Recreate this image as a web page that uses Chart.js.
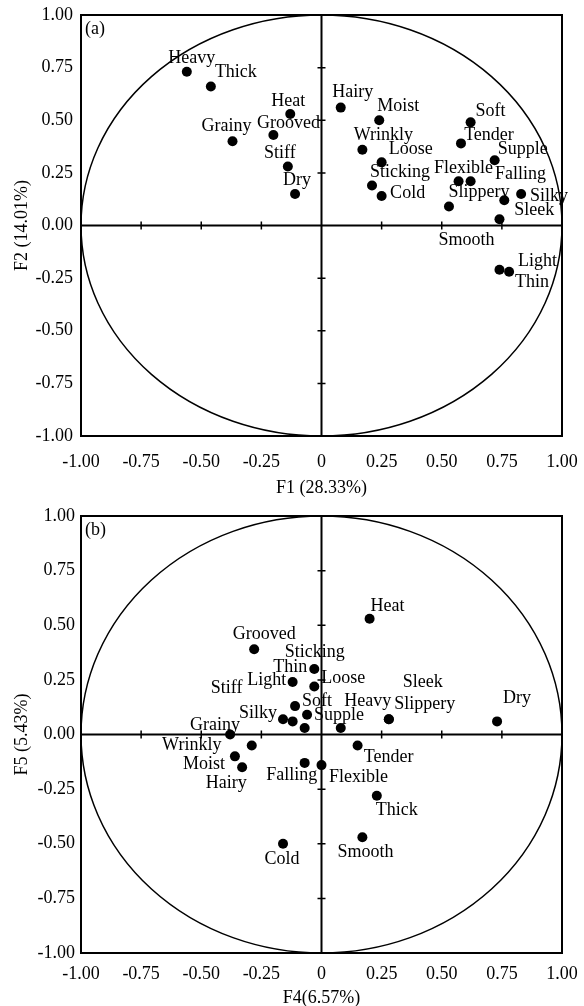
<!DOCTYPE html>
<html><head><meta charset="utf-8">
<script src="https://cdn.jsdelivr.net/npm/chart.js@4"></script>
<style>
html,body{margin:0;padding:0;background:#fff;width:584px;height:1006px;overflow:hidden}
#wa{position:absolute;left:0;top:0;width:584px;height:500px}
#wb{position:absolute;left:0;top:500px;width:584px;height:506px}
</style></head><body>
<div id="wa"><canvas id="ca" width="584" height="500"></canvas></div>
<div id="wb"><canvas id="cb" width="584" height="506"></canvas></div>
<script>
// ---- Panel (a): F1 vs F2 ----
const namesA = ['Heavy','Thick','Heat','Grooved','Grainy','Stiff','Dry','Hairy','Moist','Wrinkly','Loose','Sticking','Cold','Soft','Tender','Supple','Flexible','Falling','Silky','Slippery','Sleek','Smooth','Light','Thin'];
const f1 = [-0.56,-0.46,-0.13,-0.20,-0.37,-0.14,-0.11,0.08,0.24,0.17,0.25,0.21,0.25,0.62,0.58,0.72,0.57,0.62,0.83,0.53,0.76,0.74,0.74,0.78];
const f2 = [0.73,0.66,0.53,0.43,0.40,0.28,0.15,0.56,0.50,0.36,0.30,0.19,0.14,0.49,0.39,0.31,0.21,0.21,0.15,0.09,0.12,0.03,-0.21,-0.22];

// ---- Panel (b): F4 vs F5 ----
const namesB = ['Heat','Grooved','Thin','Sticking','Light','Stiff','Loose','Soft','Supple','Silky','Heavy','Slippery','Sleek','Dry','Grainy','Wrinkly','Moist','Hairy','Falling','Flexible','Tender','Thick','Smooth','Cold'];
const f4 = [0.20,-0.28,-0.03,-0.07,-0.12,-0.12,-0.03,-0.11,-0.06,-0.16,0.08,0.28,0.28,0.73,-0.38,-0.29,-0.36,-0.33,-0.07,0.00,0.15,0.23,0.17,-0.16];
const f5 = [0.53,0.39,0.30,0.03,0.24,0.06,0.22,0.13,0.09,0.07,0.03,0.07,0.07,0.06,0.00,-0.05,-0.10,-0.15,-0.13,-0.14,-0.05,-0.28,-0.47,-0.50];

// tick labels
const xTickLabels = ['-1.00','-0.75','-0.50','-0.25','0','0.25','0.50','0.75','1.00'];
const yTickLabels = ['-1.00','-0.75','-0.50','-0.25','0.00','0.25','0.50','0.75','1.00'];

// label placement (pixel offsets from each point; styling only)
const labelOffsetsA = [[5,-14],[25,-14],[-2,-13],[15,-12],[-6,-15],[-8,-13],[2,-14],[12,-15],[19,-14],[21,-14],[29,-13],[28,-13],[26,-3],[20,-11],[28,-8],[28,-11],[5,-13],[50,-7],[28,2],[30,-14],[30,10],[-33,21],[38,-8],[23,10]];
const labelOffsetsB = [[18,-12],[10,-15],[-24,-2],[10,-76],[-26,-2],[-66,-33],[29,-8],[22,-5],[32,0],[-25,-6],[27,-27],[36,-15],[34,-37],[20,-23],[-15,-9],[-60,0],[-31,8],[-16,16],[-13,12],[37,12],[31,12],[20,15],[3,15],[-1,16]];

const FONT = '"Liberation Serif", "Times New Roman", serif';

const decor = {
  id: 'decor',
  beforeDatasetsDraw(chart, args, o) {
    const {ctx, chartArea: a, scales: {x, y}} = chart;
    const cx = x.getPixelForValue(0), cy = y.getPixelForValue(0);
    const rx = x.getPixelForValue(1) - cx, ry = cy - y.getPixelForValue(1);
    ctx.save();
    ctx.strokeStyle = '#000';
    ctx.lineWidth = 1.5;
    ctx.beginPath(); ctx.ellipse(cx, cy, rx, ry, 0, 0, Math.PI * 2); ctx.stroke();
    ctx.lineWidth = 2;
    ctx.beginPath();
    ctx.moveTo(a.left, cy); ctx.lineTo(a.right, cy);
    ctx.moveTo(cx, a.top); ctx.lineTo(cx, a.bottom);
    ctx.stroke();
    ctx.lineWidth = 1.5;
    ctx.beginPath();
    x.ticks.forEach(t => { if (t.value !== 0 && Math.abs(t.value) < 1) { const p = x.getPixelForValue(t.value); ctx.moveTo(p, cy - 4); ctx.lineTo(p, cy + 4); } });
    y.ticks.forEach(t => { if (t.value !== 0 && Math.abs(t.value) < 1) { const p = y.getPixelForValue(t.value); ctx.moveTo(cx - 4, p); ctx.lineTo(cx + 4, p); } });
    ctx.stroke();
    ctx.lineWidth = 2;
    ctx.strokeRect(a.left, a.top, a.width, a.height);
    ctx.fillStyle = '#000';
    ctx.font = '18px ' + FONT;
    ctx.textAlign = 'left'; ctx.textBaseline = 'middle';
    ctx.fillText(o.tag, a.left + 4, a.top + 14);
    ctx.restore();
  },
  afterDatasetsDraw(chart, args, o) {
    const {ctx} = chart;
    const meta = chart.getDatasetMeta(0);
    ctx.save();
    ctx.fillStyle = '#000';
    ctx.font = '18px ' + FONT;
    ctx.textAlign = 'center'; ctx.textBaseline = 'middle';
    meta.data.forEach((pt, i) => {
      const off = o.offsets[i];
      ctx.fillText(o.names[i], pt.x + off[0], pt.y + off[1]);
    });
    ctx.restore();
  }
};

function makeChart(id, xs, ys, names, offsets, tag, xTitle, yTitle, cfg) {
  return new Chart(document.getElementById(id), {
    type: 'scatter',
    data: { datasets: [{ data: xs.map((v, i) => ({x: v, y: ys[i]})), pointRadius: 5, pointHoverRadius: 5, backgroundColor: '#000', borderWidth: 0, clip: false }] },
    options: {
      responsive: false, animation: false, events: [],
      layout: { padding: { left: 0, top: cfg.top, right: 22, bottom: 0 } },
      plugins: { legend: {display: false}, tooltip: {enabled: false}, decor: { tag, names, offsets } },
      scales: {
        x: {
          type: 'linear', min: -1, max: 1,
          grid: { display: false, drawTicks: true, tickLength: cfg.xPad }, border: { display: false },
          ticks: { stepSize: 0.25, color: '#000', font: { family: FONT, size: 18 }, padding: 0, maxRotation: 0, autoSkip: false,
                   callback: (v, i) => xTickLabels[i] },
          title: { display: true, text: xTitle, color: '#000', font: { family: FONT, size: 18, lineHeight: cfg.xTitleLH }, padding: { top: 0, bottom: 0 } },
          afterFit: s => { s.height = cfg.xH; }
        },
        y: {
          type: 'linear', min: -1, max: 1,
          grid: { display: false, drawTicks: true, tickLength: cfg.yPad }, border: { display: false },
          ticks: { stepSize: 0.25, color: '#000', font: { family: FONT, size: 18 }, padding: 0, autoSkip: false,
                   callback: (v, i) => yTickLabels[i] },
          title: { display: true, text: yTitle, color: '#000', font: { family: FONT, size: 18 }, padding: { top: 11, bottom: 0 } },
          afterFit: s => { s.width = 81; }
        }
      }
    },
    plugins: [decor]
  });
}

makeChart('ca', f1, f2, namesA, labelOffsetsA, '(a)', 'F1 (28.33%)', 'F2 (14.01%)', { top: 15, xH: 64, xPad: 15, yPad: 8, xTitleLH: 1.3 });
makeChart('cb', f4, f5, namesB, labelOffsetsB, '(b)', 'F4(6.57%)', 'F5 (5.43%)', { top: 16, xH: 53, xPad: 10, yPad: 6, xTitleLH: 0.9 });
</script>
</body></html>
